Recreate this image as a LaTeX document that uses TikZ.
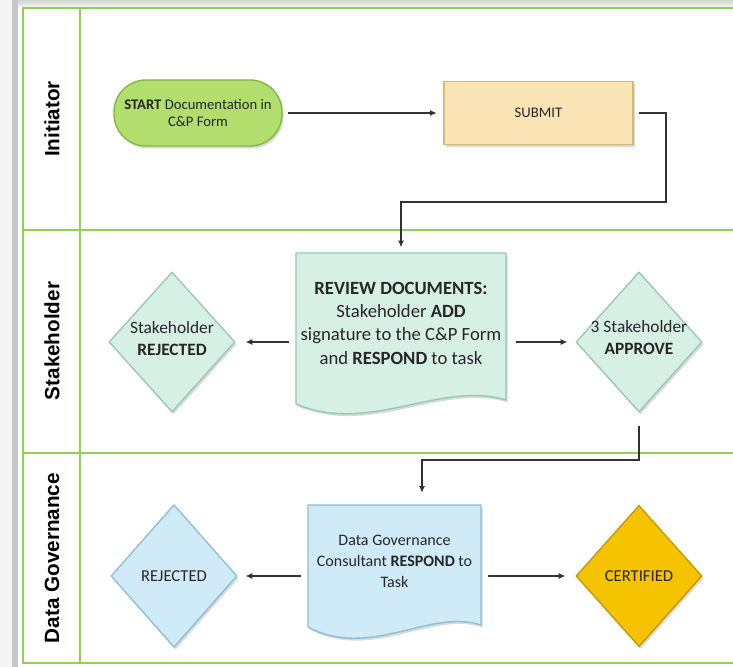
\documentclass[tikz,border=0pt]{standalone}
\usepackage{fontspec}
\setmainfont{Carlito}
\newfontfamily\lanefont{Liberation Sans}
\usetikzlibrary{arrows.meta,shapes.geometric,shadows}

\definecolor{lanegreen}{RGB}{146,208,80}
\definecolor{textgray}{RGB}{38,38,38}
\definecolor{linegray}{RGB}{50,50,50}
\definecolor{pillmid}{RGB}{178,222,110}
\definecolor{pilledge}{RGB}{128,184,60}
\definecolor{submid}{RGB}{250,227,180}
\definecolor{subedge}{RGB}{214,184,120}
\definecolor{mintmid}{RGB}{214,240,228}
\definecolor{mintedge}{RGB}{150,200,178}
\definecolor{bluemid}{RGB}{207,235,247}
\definecolor{blueedge}{RGB}{140,190,212}
\definecolor{goldmid}{RGB}{246,195,0}
\definecolor{goldedge}{RGB}{200,150,0}

\begin{document}
\begin{tikzpicture}[x=0.75pt,y=-0.75pt,
  lane/.style={draw=lanegreen,line width=1.9pt},
  lanelabel/.style={font=\lanefont\bfseries\fontsize{15.5}{18}\selectfont,rotate=90,text=black,inner sep=0pt},
  shad/.style={drop shadow={shadow xshift=1.2pt,shadow yshift=-1.8pt,opacity=0.3}},
  pill/.style={rectangle,rounded corners=24pt,fill=pillmid,draw=pilledge,line width=1pt,shad},
  subbox/.style={rectangle,fill=submid,draw=subedge,line width=1pt,shad},
  mintfill/.style={fill=mintmid,draw=mintedge,line width=1pt,shad},
  bluefill/.style={fill=bluemid,draw=blueedge,line width=1pt,shad},
  goldfill/.style={fill=goldmid,draw=goldedge,line width=1pt,shad},
  diam/.style={diamond,inner sep=0pt,minimum width=94.5pt,minimum height=105pt},
  geom/.style={rectangle,inner sep=0pt},
  txt/.style={align=center,text=textgray,inner sep=0pt},
  arr/.style={draw=linegray,line width=0.8pt,-{Latex[length=5pt,width=4.5pt]}},
]
\useasboundingbox (0,0) rectangle (733,667);
\fill[white] (0,0) rectangle (733,667);
% left and top grey edges
\fill[gray!8] (0,0) rectangle (12,667);
\fill[gray!45] (12,0) rectangle (18,667);
\shade[top color=gray!35,bottom color=gray!8] (18,0) rectangle (733,7);

% swimlane frame
\draw[lane] (733,8) -- (23,8) -- (23,663) -- (733,663);
\draw[lane] (80,8) -- (80,663);
\draw[lane] (23,230) -- (733,230);
\draw[lane] (23,453) -- (733,453);

% lane labels
\node[lanelabel] (l1) at (52,119) {Initiator};
\node[lanelabel] (l2) at (52,341) {Stakeholder};
\node[lanelabel] (l3) at (52,558) {Data Governance};

% Initiator lane
\node[pill,minimum width=126pt,minimum height=49.5pt,txt,font=\fontsize{11}{12.5}\selectfont] (start) at (198,113)
  {\textbf{START} Documentation in\\C\&P Form};
\node[subbox,minimum width=141.75pt,minimum height=47.25pt,txt,font=\fontsize{11}{13}\selectfont] (submit) at (538.5,113)
  {SUBMIT};

% Stakeholder lane
\path[mintfill] (296,253) -- (506,253) -- (506,400) .. controls (440,380) and (370,435) .. (296,404) -- cycle;
\node[geom,minimum width=157.5pt,minimum height=115.5pt] (review) at (401,330.5) {};
\node[txt,font=\fontsize{14}{17.5}\selectfont] (reviewtext) at (401,323)
  {\textbf{REVIEW DOCUMENTS:}\\Stakeholder \textbf{ADD}\\signature to the C\&P Form\\and \textbf{RESPOND} to task};
\node[diam,mintfill] (srej) at (172,342) {};
\node[txt,font=\fontsize{13}{16.5}\selectfont] (srejtext) at (172,339) {Stakeholder\\\textbf{REJECTED}};
\node[diam,mintfill] (appr) at (639,342) {};
\node[txt,font=\fontsize{13}{16.5}\selectfont] (apprtext) at (639,338) {3 Stakeholder\\\textbf{APPROVE}};

% Data Governance lane
\path[bluefill] (308,505) -- (481,505) -- (481,625) .. controls (430,608) and (370,660) .. (308,627) -- cycle;
\node[geom,minimum width=129.75pt,minimum height=99pt] (dg) at (394.5,571) {};
\node[txt,font=\fontsize{12}{15.75}\selectfont] (dgtext) at (394.5,561)
  {Data Governance\\Consultant \textbf{RESPOND} to\\Task};
\node[diam,minimum height=107pt,bluefill] (drej) at (174,576) {};
\node[txt,font=\fontsize{12.5}{15}\selectfont] (drejtext) at (174,576) {REJECTED};
\node[diam,minimum height=106pt,goldfill] (cert) at (639,576) {};
\node[txt,font=\fontsize{12.5}{15}\selectfont] (certtext) at (639,576) {CERTIFIED};

% connectors
\coordinate (b1) at (666,202);
\coordinate (b3) at (422,460);
\draw[arr,shorten <=3.75pt,shorten >=5pt] (start) -- (submit);
\draw[arr,shorten <=3.75pt,shorten >=4.5pt] (submit.east) -| (b1) -| (review.north);
\draw[arr,shorten <=5.25pt,shorten >=7.5pt] (review.west |- srej) -- (srej.east);
\draw[arr,shorten <=7.5pt,shorten >=6pt] (review.east |- appr) -- (appr.west);
\draw[arr,shorten <=10pt,shorten >=9pt] (appr.south) |- (b3) -- (b3 |- dg.north);
\draw[arr,shorten <=5.25pt,shorten >=6pt] (dg.west |- drej) -- (drej.east);
\draw[arr,shorten <=5.25pt,shorten >=7.5pt] (dg.east |- cert) -- (cert.west);
\end{tikzpicture}
\end{document}
